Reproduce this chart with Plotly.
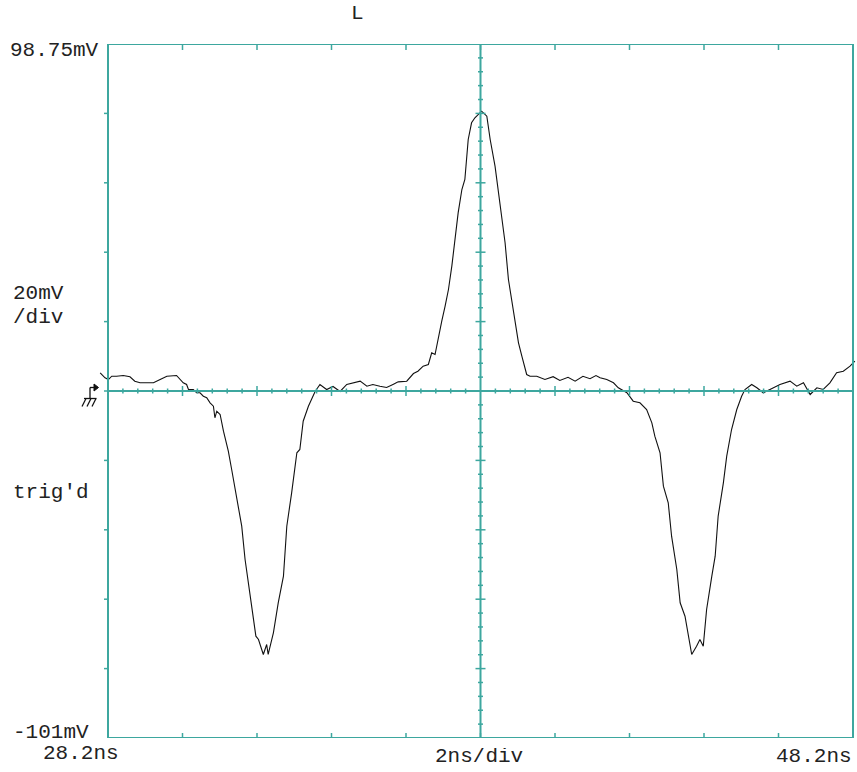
import plotly.graph_objects as go

# ---- data (time in ns, voltage in mV) ----
time_ns = [27.99, 28.12, 28.21, 28.30, 28.43, 28.61, 28.79, 28.92, 29.06, 29.24, 29.42, 29.60, 29.78,
           30.04, 30.13, 30.22, 30.31, 30.36, 30.49, 30.58, 30.67, 30.76, 30.85, 30.94, 31.03, 31.07,
           31.12, 31.21, 31.30, 31.43, 31.52, 31.66, 31.79, 31.88, 32.01, 32.10, 32.17, 32.24, 32.37,
           32.46, 32.50, 32.64, 32.77, 32.91, 33.00, 33.13, 33.27, 33.35, 33.44, 33.58, 33.62, 33.76,
           33.89, 34.07, 34.24, 34.43, 34.61, 34.78, 34.97, 35.15, 35.31, 35.50, 35.68, 35.85, 35.99,
           36.22, 36.40, 36.52, 36.66, 36.80, 36.89, 36.98, 37.07, 37.16, 37.25, 37.34, 37.43, 37.52,
           37.60, 37.70, 37.78, 37.87, 37.96, 38.05, 38.14, 38.23, 38.37, 38.46, 38.59, 38.68, 38.77,
           38.86, 38.95, 39.04, 39.13, 39.22, 39.31, 39.44, 39.53, 39.71, 39.93, 40.15, 40.33, 40.55,
           40.74, 40.95, 41.14, 41.30, 41.41, 41.59, 41.77, 41.90, 42.13, 42.30, 42.48, 42.66, 42.80,
           42.88, 43.02, 43.11, 43.24, 43.33, 43.47, 43.56, 43.69, 43.78, 43.87, 44.00, 44.09, 44.18,
           44.27, 44.41, 44.50, 44.58, 44.72, 44.81, 44.94, 45.08, 45.21, 45.30, 45.48, 45.62, 45.79,
           45.97, 46.24, 46.51, 46.69, 46.87, 47.05, 47.23, 47.40, 47.58, 47.76, 47.94, 48.12, 48.25]
volt_mv = [4.11, 2.67, 2.18, 3.13, 3.13, 3.34, 2.96, 1.70, 1.24, 1.24, 1.24, 2.18, 3.13,
           3.34, 2.18, 1.24, 0.75, -0.69, -0.69, -1.64, -1.64, -2.62, -3.08, -4.52, -5.50, -8.84,
           -6.94, -7.89, -12.70, -18.45, -23.72, -32.35, -40.04, -49.62, -60.18, -65.94, -71.70, -72.65, -76.96,
           -74.09, -76.96, -70.72, -62.09, -54.43, -40.04, -30.43, -18.91, -17.96, -9.82, -5.50, -4.44, -1.27,
           0.75, -0.69, 0.17, -1.27, 0.75, 1.24, 1.70, 0.26, 0.75, 0.26, -0.12, 0.75, 1.50,
           1.70, 3.90, 4.57, 6.01, 6.50, 9.87, 9.38, 14.65, 18.96, 23.28, 28.09, 34.80, 42.48,
           50.16, 56.87, 59.75, 71.26, 76.07, 77.51, 78.46, 79.41, 77.97, 71.26, 63.58, 55.92, 48.24,
           41.53, 30.97, 25.21, 19.45, 12.75, 8.89, 3.62, 3.13, 3.13, 2.20, 3.00, 1.90, 2.80,
           1.70, 3.10, 2.40, 3.30, 2.67, 2.18, 1.24, -0.20, -1.64, -4.06, -4.52, -6.45, -10.28,
           -14.14, -18.91, -28.52, -33.30, -42.92, -52.50, -62.09, -65.94, -71.70, -76.96, -74.58, -72.65, -74.58,
           -64.01, -54.43, -48.67, -37.16, -27.55, -19.89, -12.21, -6.45, -2.62, -0.69, 0.75, -0.20, -1.64,
           -0.69, 0.75, 1.70, 0.26, 1.24, -2.13, -0.20, -0.69, 1.24, 4.11, 4.57, 6.01, 7.45]

# screen settings
x_left_ns, x_right_ns = 28.2, 48.2
y_bottom_mv, y_top_mv = -101.0, 98.75
n_div = 10
label_top = "98.75mV"
label_bottom = "-101mV"
label_vdiv = ["20mV", "/div"]
label_trig = "trig'd"
label_tstart = "28.2ns"
label_tend = "48.2ns"
label_hdiv = "2ns/div"
label_title = "L"

# ---- layout geometry ----
W, H = 857, 772
L, R, T, B = 97, 0, 44, 34
FRAME_L, FRAME_R = 108, 853
pw, ph = W - L - R, H - T - B
px_per_ns = (FRAME_R - FRAME_L) / (x_right_ns - x_left_ns)
xr0 = x_left_ns - (FRAME_L - L) / px_per_ns
xr1 = xr0 + pw / px_per_ns
px_per_mv = ph / (y_top_mv - y_bottom_mv)

def dx(p):
    return p / px_per_ns

def dy(p):
    return p / px_per_mv

def pxx(p):
    return (p - L) / pw

def pxy(p):
    return 1 - (p - T) / ph

TEAL = "#3da79f"
xc = (x_left_ns + x_right_ns) / 2
yc = (y_top_mv + y_bottom_mv) / 2
xdiv = (x_right_ns - x_left_ns) / n_div
ydiv = (y_top_mv - y_bottom_mv) / n_div

shapes = []

def seg(x0, y0, x1, y1, w=1.5, color=TEAL, ref="data"):
    d = dict(type="line", x0=x0, y0=y0, x1=x1, y1=y1, line=dict(color=color, width=w))
    if ref == "paper":
        d.update(xref="paper", yref="paper")
    else:
        d.update(xref="x", yref="y")
    shapes.append(d)

# frame
shapes.append(dict(type="rect", xref="x", yref="y", x0=x_left_ns, x1=x_right_ns,
                   y0=y_bottom_mv, y1=y_top_mv, line=dict(color=TEAL, width=2)))
# centre axes
seg(x_left_ns, yc, x_right_ns, yc, w=2)
seg(xc, y_bottom_mv, xc, y_top_mv, w=2)

# ticks on centre axes
for k in range(-n_div * 5 // 2, n_div * 5 // 2 + 1):
    if k == 0:
        continue
    major = (k % 5 == 0)
    hl = 5 if major else 2.5
    xt = xc + k * xdiv / 5
    if x_left_ns < xt < x_right_ns:
        seg(xt, yc - dy(hl), xt, yc + dy(hl))
    yt = yc + k * ydiv / 5
    if y_bottom_mv < yt < y_top_mv:
        seg(xc - dx(hl), yt, xc + dx(hl), yt)

# ticks on frame edges
for k in range(1, n_div):
    xt = x_left_ns + k * xdiv
    seg(xt, y_top_mv, xt, y_top_mv - dy(6))
    seg(xt, y_bottom_mv, xt, y_bottom_mv + dy(5))
    yt = y_bottom_mv + k * ydiv
    seg(x_left_ns, yt, x_left_ns - dx(4), yt)

# ground marker (pixel-positioned, paper coords)
BLK = "#111111"
seg(pxx(90), pxy(387.5), pxx(90), pxy(398.5), w=1.3, color=BLK, ref="paper")
seg(pxx(90), pxy(387.5), pxx(95), pxy(387.5), w=1.3, color=BLK, ref="paper")
shapes.append(dict(type="path", xref="paper", yref="paper",
                   path=f"M {pxx(94)} {pxy(384)} L {pxx(98.5)} {pxy(387.5)} L {pxx(94)} {pxy(391)} Z",
                   fillcolor=BLK, line=dict(color=BLK, width=1)))
seg(pxx(84), pxy(398.5), pxx(96.5), pxy(398.5), w=1.3, color=BLK, ref="paper")
for hx in (86, 91, 96):
    seg(pxx(hx), pxy(398.5), pxx(hx - 4), pxy(406.5), w=1.3, color=BLK, ref="paper")

FONT = dict(family="Liberation Mono, Courier New, monospace", size=21, color="#222222")

def ann(text, px, py, xanchor="left", h=None):
    d = dict(text=text, x=pxx(px), y=pxy(py), xref="paper", yref="paper",
             xanchor=xanchor, yanchor="middle", showarrow=False, font=FONT)
    if h:
        d["height"] = h
    return d

annotations = [
    ann(label_title, 357, 14, "center"),
    ann(label_top, 101, 50, "right"),
    ann(label_vdiv[0], 11, 293),
    ann(label_vdiv[1], 11, 317),
    ann(label_trig, 11, 492),
    ann(label_bottom, 11, 732, h=17),
    ann(label_tstart, 41, 753, h=17),
    ann(label_hdiv, 479, 756, "center", h=17),
    ann(label_tend, 854, 756, "right", h=17),
]

fig = go.Figure()
fig.add_trace(go.Scatter(x=time_ns, y=volt_mv, mode="lines",
                         line=dict(color="#111111", width=1.1), hoverinfo="skip",
                         showlegend=False))

fig.update_layout(
    width=W, height=H,
    margin=dict(l=L, r=R, t=T, b=B, pad=0),
    paper_bgcolor="white", plot_bgcolor="white",
    xaxis=dict(range=[xr0, xr1], visible=False, showgrid=False, zeroline=False),
    yaxis=dict(range=[y_bottom_mv, y_top_mv], visible=False, showgrid=False, zeroline=False),
    shapes=shapes, annotations=annotations,
    showlegend=False,
)

fig.write_html("out.html", config={"displayModeBar": False},
               post_script="document.body.style.margin='0';document.body.style.overflow='hidden';")
